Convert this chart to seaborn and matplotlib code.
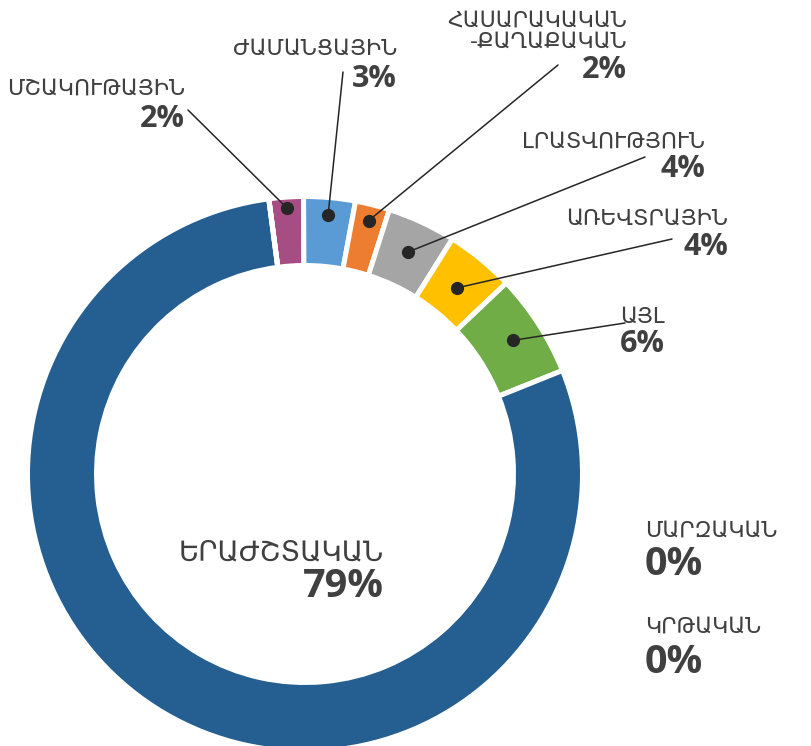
import numpy as np
import matplotlib.pyplot as plt
import seaborn as sns

# pie order, clockwise from just left of 12 o'clock
categories = ['ՄՇԱԿՈՒԹԱՅԻՆ', 'ԺԱՄԱՆՑԱՅԻՆ', 'ՀԱՍԱՐԱԿԱԿԱՆ\n-ՔԱՂԱՔԱԿԱՆ', 'ԼՐԱՏՎՈՒԹՅՈՒՆ',
              'ԱՌԵՎՏՐԱՅԻՆ', 'ԱՅԼ', 'ԵՐԱԺՇՏԱԿԱՆ', 'ՄԱՐԶԱԿԱՆ', 'ԿՐԹԱԿԱՆ']
shares = [2, 3, 2, 4, 4, 6, 79, 0, 0]
colors = ['#A64D83', '#5B9BD5', '#ED7D31', '#A5A5A5', '#FFC000', '#70AD47',
          '#255E91', '#9E480E', '#636363']

sns.set_theme(style='white')
plt.rcParams['font.family'] = ['DejaVu Sans']

W, H = 811, 746
fig = plt.figure(figsize=(W / 100, H / 100), dpi=100)
ax = fig.add_axes([0, 0, 1, 1])

def px(x, y):
    # reference pixel coords -> axes data coords
    return x, H - y

cx, cy = px(305, 474)
R = 275
ring = 64
lw = 3.6
half = lw / 72 * 100 / 2

wedges, _ = ax.pie(shares, colors=colors, startangle=97.5, counterclock=False,
                   center=(cx, cy), radius=R + half,
                   wedgeprops=dict(width=ring + 2 * half, edgecolor='white', linewidth=lw))

txt = '#404040'
name_font = dict(fontsize=15.8, color=txt, family=['DejaVu Sans'])
pct_font = dict(fontsize=22, color=txt, fontweight='bold', family=['Open Sans', 'DejaVu Sans'])

# label layout: x anchor, name baseline, pct baseline, align, leader end, dot radius
layout = {
    0: (185, 95, 127, 'right', (188, 110), 0.97),
    1: (397, 55, 87, 'right', (343, 72), 0.945),
    2: (627, 27, 78, 'right', (558, 65), 0.95),
    3: (705, 148, 177, 'right', (645, 157), 0.89),
    4: (728, 225, 255, 'right', (672, 239), 0.875),
    5: (665, 323, 352, 'right', (625, 323), 0.9),
    6: (384, 560, 597, 'right', None, None),
    7: (645, 537, 575, 'left', None, None),
    8: (645, 633, 673, 'left', None, None),
}

for i, (name, val) in enumerate(zip(categories, shares)):
    x, yn, yp, ha, lead, dr = layout[i]
    big = i >= 6
    for k, line in enumerate(name.split('\n')):
        nf = dict(name_font)
        if i == 6:
            nf['fontsize'] = 20
        ax.text(*px(x, yn + 21 * k), line, ha=ha, va='baseline', **nf)
    pf = dict(pct_font)
    if big:
        pf['fontsize'] = 28.5
    ax.text(*px(x, yp), f'{val}%', ha=ha, va='baseline', **pf)
    if lead is not None:
        w = wedges[i]
        th = np.deg2rad((w.theta1 + w.theta2) / 2)
        dx = cx + dr * R * np.cos(th)
        dy = cy + dr * R * np.sin(th)
        lx, ly = px(*lead)
        ax.plot([dx, lx], [dy, ly], color='#262626', lw=1.1, zorder=5)
        ax.plot(dx, dy, 'o', color='#262626', ms=8.5, zorder=6)

ax.set_xlim(0, W)
ax.set_ylim(0, H)
ax.set_aspect('equal')
ax.axis('off')

fig.savefig('out.png', dpi=100, facecolor='white')
